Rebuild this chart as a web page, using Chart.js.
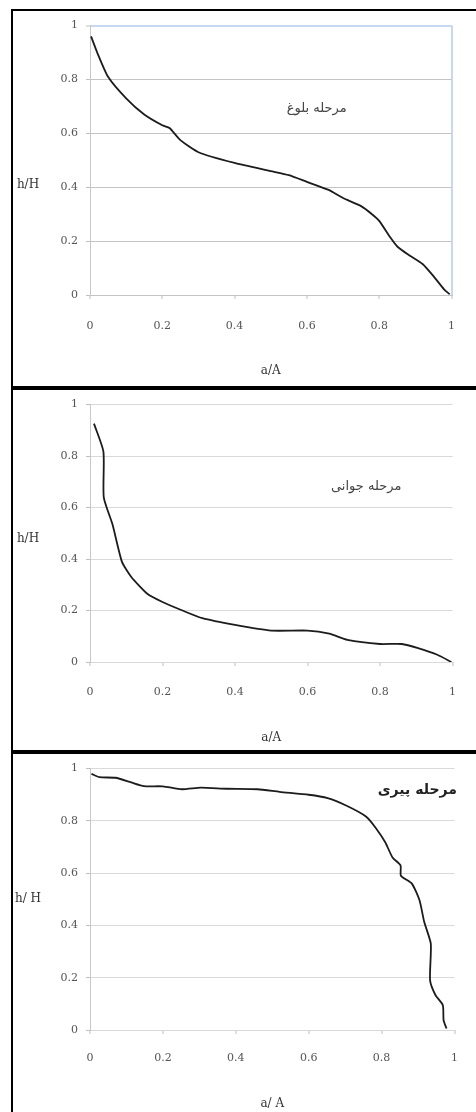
<!DOCTYPE html>
<html>
<head>
<meta charset="utf-8">
<script src="https://cdn.jsdelivr.net/npm/chart.js@4.4.1/dist/chart.umd.min.js"></script>
<style>
  html, body { margin: 0; padding: 0; background: #fff; }
  #wrap { position: relative; width: 476px; height: 1112px; overflow: hidden; background: #fff; }
  canvas { position: absolute; }
  .rule { position: absolute; background: #000; }
</style>
</head>
<body>
<div id="wrap">
  <canvas id="c1" width="463" height="375" style="left:13px;top:11px"></canvas>
  <canvas id="c2" width="463" height="360" style="left:13px;top:390px"></canvas>
  <canvas id="c3" width="463" height="358" style="left:13px;top:754px"></canvas>
  <div class="rule" style="left:11px;top:9px;width:2px;height:1103px"></div>
  <div class="rule" style="left:11px;top:9px;width:465px;height:2px"></div>
  <div class="rule" style="left:11px;top:386px;width:465px;height:4px"></div>
  <div class="rule" style="left:11px;top:750px;width:465px;height:4px"></div>
</div>
<script>
// ---- data ----
const xTicks = [0, 0.2, 0.4, 0.6, 0.8, 1];
const yTicks = [0, 0.2, 0.4, 0.6, 0.8, 1];

const maturityX = [0.003, 0.02, 0.05, 0.1, 0.15, 0.2, 0.22, 0.25, 0.3, 0.4, 0.5, 0.55, 0.6, 0.66, 0.7, 0.75, 0.78, 0.8, 0.83, 0.85, 0.88, 0.92, 0.95, 0.98, 0.995];
const maturityY = [0.96, 0.9, 0.81, 0.73, 0.67, 0.63, 0.62, 0.575, 0.53, 0.49, 0.46, 0.445, 0.42, 0.39, 0.36, 0.33, 0.3, 0.275, 0.215, 0.18, 0.15, 0.115, 0.07, 0.02, 0.003];

const youthX = [0.011, 0.037, 0.038, 0.062, 0.088, 0.114, 0.158, 0.2, 0.255, 0.31, 0.4, 0.5, 0.6, 0.66, 0.71, 0.8, 0.86, 0.905, 0.958, 0.997];
const youthY = [0.926, 0.817, 0.64, 0.535, 0.39, 0.33, 0.265, 0.233, 0.2, 0.17, 0.144, 0.122, 0.122, 0.11, 0.086, 0.07, 0.07, 0.054, 0.028, 0];

const oldAgeX = [0.004, 0.026, 0.07, 0.113, 0.148, 0.2, 0.252, 0.304, 0.374, 0.46, 0.52, 0.6, 0.652, 0.704, 0.757, 0.783, 0.81, 0.83, 0.852, 0.853, 0.883, 0.904, 0.917, 0.935, 0.933, 0.948, 0.968, 0.97, 0.978];
const oldAgeY = [0.98, 0.967, 0.965, 0.947, 0.933, 0.932, 0.921, 0.927, 0.923, 0.921, 0.911, 0.9, 0.887, 0.858, 0.817, 0.775, 0.718, 0.66, 0.63, 0.59, 0.56, 0.496, 0.413, 0.33, 0.19, 0.133, 0.095, 0.038, 0.006];

const stageNames = ['مرحله بلوغ', 'مرحله جوانی', 'مرحله پیری'];
const xTitles = ['a/A', 'a/A', 'a/ A'];
const yTitles = ['h/H', 'h/H', 'h/ H'];

// ---- plugin for horizontal y title and stage label ----
const panelText = {
  id: 'panelText',
  afterDraw(chart, args, o) {
    const {ctx, chartArea, scales} = chart;
    ctx.save();
    ctx.textAlign = 'center';
    ctx.textBaseline = 'middle';
    ctx.fillStyle = '#333';
    ctx.font = '12px "DejaVu Serif", "Liberation Serif", serif';
    ctx.fillText(o.yTitle, chartArea.left - o.yTitleGap, scales.y.getPixelForValue(o.yTitleAt));
    ctx.fillStyle = o.stageColor;
    ctx.font = o.stageFont;
    ctx.fillText(o.stage, scales.x.getPixelForValue(o.stageAt[0]), scales.y.getPixelForValue(o.stageAt[1]));
    ctx.restore();
  }
};

function fmt(v) { return String(Math.round(v * 10) / 10); }

function makeChart(id, xs, ys, idx, p) {
  const pts = xs.map((x, i) => ({x: x, y: ys[i]}));
  const blue = '#c6d9f0';
  const tickFont = { family: '"DejaVu Serif", "Liberation Serif", serif', size: 11 };
  return new Chart(document.getElementById(id), {
    type: 'scatter',
    data: { datasets: [{ data: pts, showLine: true, borderColor: '#1c1c1c', borderWidth: 1.8, pointRadius: 0, tension: 0.2, fill: false }] },
    plugins: [panelText],
    options: {
      responsive: false,
      animation: false,
      layout: { autoPadding: false, padding: { top: p.top, right: p.right, left: 0, bottom: 0 } },
      plugins: {
        legend: { display: false },
        tooltip: { enabled: false },
        panelText: {
          yTitle: yTitles[idx], yTitleGap: 62, yTitleAt: p.yTitleAt,
          stage: stageNames[idx], stageAt: p.stageAt,
          stageFont: p.stageFont, stageColor: p.stageColor
        }
      },
      scales: {
        x: {
          type: 'linear', min: 0, max: 1,
          afterBuildTicks: s => { s.ticks = xTicks.map(v => ({value: v})); },
          afterFit: s => { s.height = p.xH; },
          ticks: { callback: fmt, color: '#555', padding: p.xPad, maxRotation: 0, autoSkip: false, font: tickFont },
          grid: {
            drawOnChartArea: p.blueFrame,
            color: c => (p.blueFrame && c.tick && c.tick.value === 1) ? blue : 'rgba(0,0,0,0)',
            lineWidth: 2,
            tickColor: '#bfbfbf', tickLength: 4, tickWidth: 1
          },
          border: { display: true, color: p.gridColor, width: 1 },
          title: { display: true, text: xTitles[idx], color: '#333', padding: { top: 0, bottom: p.xTitlePad },
                   font: { family: '"DejaVu Serif", "Liberation Serif", serif', size: 12 } }
        },
        y: {
          type: 'linear', min: 0, max: 1,
          afterBuildTicks: s => { s.ticks = yTicks.map(v => ({value: v})); },
          afterFit: s => { s.width = 77; },
          ticks: { callback: fmt, color: '#555', padding: 8, font: tickFont },
          grid: {
            color: c => (p.blueFrame && c.tick && c.tick.value === 1) ? blue : p.gridColor,
            lineWidth: c => (p.blueFrame && c.tick && c.tick.value === 1) ? 2 : 1,
            tickColor: '#bfbfbf', tickLength: 4, tickWidth: 1
          },
          border: { display: true, color: '#c8c8c8', width: 1 }
        }
      }
    }
  });
}

makeChart('c1', maturityX, maturityY, 0, {
  top: 13, right: 7, xH: 91, xPad: 21, xTitlePad: 8, blueFrame: true, gridColor: '#c4c4c4',
  yTitleAt: 0.41, stageAt: [0.627, 0.69], stageFont: '13px "DejaVu Sans", sans-serif', stageColor: '#444'
});
makeChart('c2', youthX, youthY, 1, {
  top: 12, right: 7, xH: 88, xPad: 20, xTitlePad: 5, blueFrame: false, gridColor: '#d9d9d9',
  yTitleAt: 0.48, stageAt: [0.762, 0.68], stageFont: '13px "DejaVu Sans", sans-serif', stageColor: '#444'
});
makeChart('c3', oldAgeX, oldAgeY, 2, {
  top: 14, right: 5, xH: 82, xPad: 18, xTitlePad: 1, blueFrame: false, gridColor: '#d9d9d9',
  yTitleAt: 0.5, stageAt: [0.898, 0.916], stageFont: 'bold 14px "DejaVu Sans", sans-serif', stageColor: '#222'
});
</script>
</body>
</html>
